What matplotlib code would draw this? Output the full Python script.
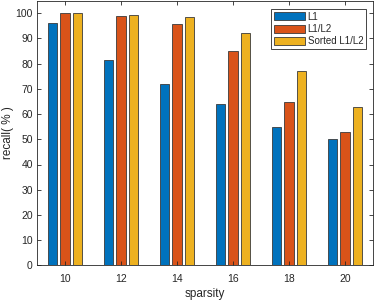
import matplotlib
matplotlib.use("Agg")
import matplotlib.pyplot as plt
import numpy as np

sparsity = [10, 12, 14, 16, 18, 20]
recall_l1 = [96.0, 81.6, 71.9, 64.0, 54.8, 50.2]
recall_l1l2 = [100.0, 99.0, 95.6, 85.1, 64.8, 52.9]
recall_sorted = [100.0, 99.5, 98.4, 92.2, 77.1, 62.7]
series_names = ["L1", "L1/L2", "Sorted L1/L2"]

plt.rcParams['font.family'] = ['Liberation Sans', 'DejaVu Sans']

colors = ['#0072BD', '#D95319', '#EDB120']
edge = '#3a3a3a'
textc = '#262626'

fig = plt.figure(figsize=(3.74, 3.0), dpi=100)
ax = fig.add_axes([37 / 374, (300 - 265.3) / 300, (373 - 37) / 374, (265.3 - 0.7) / 300])

x = np.arange(1, len(sparsity) + 1)
offsets = [-0.222, 0, 0.222]
width = 0.165
for vals, off, c, name in zip([recall_l1, recall_l1l2, recall_sorted], offsets, colors, series_names):
    ax.bar(x + off, vals, width=width, color=c, edgecolor=edge, linewidth=0.6, label=name)

ax.set_xlim(0.5, 6.5)
ax.set_ylim(0, 105)
ax.set_xticks(x)
ax.set_xticklabels([str(s) for s in sparsity])
ax.set_yticks(np.arange(0, 101, 10))
ax.tick_params(direction='in', length=3, width=0.6, top=True, right=True,
               labelsize=7.5, colors=textc, pad=3)
ax.tick_params(axis='x', pad=6)
for sp in ax.spines.values():
    sp.set_linewidth(0.6)
    sp.set_color(textc)

ax.set_xlabel("sparsity", fontsize=8.5, color=textc, labelpad=3)
ax.set_ylabel("recall( % )", fontsize=8.5, color=textc, labelpad=1)

leg = ax.legend(loc='upper right', bbox_to_anchor=(0.98, 0.97), fontsize=7,
                fancybox=False, framealpha=1, edgecolor=textc,
                handlelength=3.2, handleheight=0.9, handletextpad=0.3,
                borderpad=0.3, labelspacing=0.25, borderaxespad=0)
leg.get_frame().set_linewidth(0.6)
for t in leg.get_texts():
    t.set_color(textc)

fig.savefig("out.png", dpi=100)
